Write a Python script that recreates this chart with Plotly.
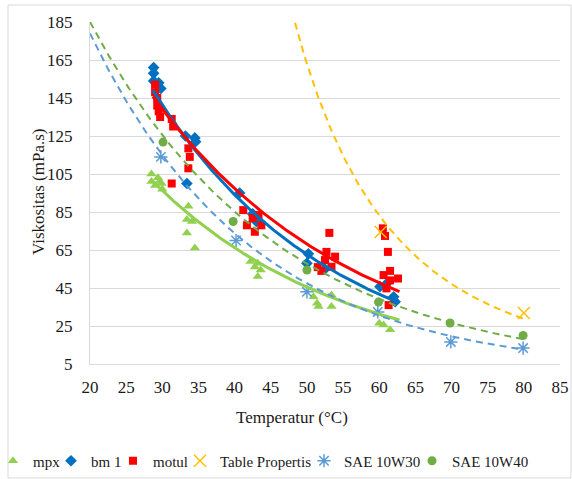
import numpy as np
import plotly.graph_objects as go

# ---------------- data ----------------
mpx_x = [28.5, 28.5, 29.0, 29.4, 29.6, 29.9, 30.0, 33.6, 33.4, 34.1, 33.4, 34.5,
         42.2, 43.2, 43.6, 43.2, 42.8, 50.9, 51.4, 51.6, 53.4, 53.4,
         60.0, 60.6, 61.5, 62.1]
mpx_y = [105, 101, 99, 103, 101, 100, 97, 88, 81, 80, 74, 66,
         59, 58, 54.5, 51, 56, 40.4, 37, 35.2, 41.3, 35.2,
         26.4, 25.5, 23, 39]

bm1_x = [28.8, 28.8, 28.8, 29.5, 29.8, 33.2, 34.5, 34.6, 33.4, 40.7, 42.5, 43.0,
         50.2, 50.0, 52.5, 60.1, 61.2, 62.0, 62.2]
bm1_y = [161, 158, 154, 153, 150, 125, 124, 122, 100, 95, 84, 80,
         63, 58, 55, 45.7, 48, 40.4, 37.8]

motul_x = [29.0, 29.0, 29.3, 29.3, 29.5, 29.7, 31.3, 31.5, 31.3, 33.6, 33.8, 33.6,
           41.2, 41.7, 43.3, 42.8, 43.7, 42.5,
           51.5, 52.0, 52.7, 53.1, 53.9, 52.5, 53.4,
           60.5, 60.8, 61.2, 61.5, 60.6, 62.6, 61.5, 61.0, 61.3]
motul_y = [152, 148, 145, 141, 138, 135, 134, 130, 100, 118.5, 114, 108,
           86, 78, 83.4, 74.6, 78, 81.8,
           56, 54, 64, 74, 61.5, 59.7, 56.2,
           76.4, 72.4, 64, 54, 51.8, 50, 49, 44.8, 36]

table_x = [60.2, 80.0]
table_y = [74.5, 31.8]

sae10w30_x = [29.8, 40.2, 50.0, 59.8, 69.9, 79.9]
sae10w30_y = [114, 70, 43, 32.4, 16.6, 13.4]

sae10w40_x = [30.1, 39.8, 50.0, 59.9, 69.8, 79.9]
sae10w40_y = [121.8, 80, 54.5, 37.6, 26.6, 20]

# trendlines as shown in the picture (Excel-style trendline equations)
# exponential: y = y_ref * exp(k * (x - x_ref));  power: y = y_ref * (x / x_ref) ** k
trend_names = ["mpx", "bm 1", "motul", "Table Propertis", "SAE 10W30", "SAE 10W40"]
trend_kind = ["exp", "exp", "exp", "power", "exp", "exp"]
trend_from = [28.5, 28.7, 28.7, 40.0, 20.0, 20.0]
trend_to = [62.8, 62.8, 62.8, 80.0, 80.0, 80.0]
trend_x_ref = [28.5, 28.7, 28.7, 58.5, 20.0, 20.0]
trend_y_ref = [101.8, 149.0, 145.7, 91.3, 179.0, 185.0]
trend_k = [-0.0375, -0.0407, -0.0357, -3.69, -0.0443, -0.0388]

x_ticks = [20, 25, 30, 35, 40, 45, 50, 55, 60, 65, 70, 75, 80, 85]
y_ticks = [5, 25, 45, 65, 85, 105, 125, 145, 165, 185]

# ---------------- figure ----------------
SERIF = "Liberation Serif"
W, H = 572, 479
ML, MR, MT, MB = 90, 12, 22, 115
PW, PH = W - ML - MR, H - MT - MB


def px_x(p):
    return (p - ML) / PW


def px_y(p):
    return (H - MB - p) / PH


fig = go.Figure()

colors = {"mpx": "#92D050", "bm 1": "#0070C0", "motul": "#FF0000",
          "Table Propertis": "#FFC000", "SAE 10W30": "#5B9BD5", "SAE 10W40": "#70AD47"}

marker_series = [
    ("mpx", mpx_x, mpx_y, dict(symbol="triangle-up", size=9), 13),
    ("bm 1", bm1_x, bm1_y, dict(symbol="diamond", size=9), 17),
    ("motul", motul_x, motul_y, dict(symbol="square", size=8), 22),
    ("Table Propertis", table_x, table_y, dict(symbol="x-thin-open", size=12), 79),
    ("SAE 10W30", sae10w30_x, sae10w30_y, dict(symbol="asterisk-open", size=11), 63),
    ("SAE 10W40", sae10w40_x, sae10w40_y, dict(symbol="circle", size=9), 76),
]

for name, xs, ys, mk, lw in marker_series:
    c = colors[name]
    mk = dict(mk, color=c, line=dict(color=c, width=1.5 if "open" in mk["symbol"] else 0))
    fig.add_trace(go.Scatter(x=xs, y=ys, mode="markers", name=name, marker=mk,
                             legendwidth=lw, hoverinfo="x+y+name"))

for name, kind, x0, x1, xr, yr, k in zip(trend_names, trend_kind, trend_from, trend_to,
                                         trend_x_ref, trend_y_ref, trend_k):
    xx = np.linspace(x0, x1, 200)
    if kind == "exp":
        yy = yr * np.exp(k * (xx - xr))
    else:
        yy = yr * (xx / xr) ** k
    solid = name in ("mpx", "bm 1", "motul")
    fig.add_trace(go.Scatter(
        x=xx, y=yy, mode="lines", showlegend=False, hoverinfo="skip", name=name + " trend",
        line=dict(color=colors[name], width=3 if solid else 2,
                  dash="solid" if solid else "7px,5px")))

fig.update_layout(
    width=W, height=H,
    margin=dict(l=ML, r=MR, t=MT, b=MB, autoexpand=False),
    paper_bgcolor="white", plot_bgcolor="white",
    font=dict(family=SERIF, size=16, color="#1a1a1a"),
    showlegend=True,
    legend=dict(orientation="h", x=px_x(-7), xanchor="left", y=px_y(461), yanchor="middle",
                font=dict(family=SERIF, size=15, color="#1a1a1a"),
                itemwidth=30, bgcolor="rgba(0,0,0,0)", tracegroupgap=0),
    xaxis=dict(range=[20, 85], tickvals=x_ticks, ticktext=[str(v) for v in x_ticks],
               showgrid=False, zeroline=False, showline=True, linecolor="#D9D9D9", linewidth=1,
               ticks="", ticklabelstandoff=8, tickfont=dict(family=SERIF, size=17, color="#1a1a1a")),
    yaxis=dict(range=[5, 185], tickvals=y_ticks, ticktext=[str(v) for v in y_ticks],
               showgrid=True, gridcolor="#D9D9D9", gridwidth=1, zeroline=False,
               showline=True, linecolor="#D9D9D9", linewidth=1,
               ticks="", ticklabelstandoff=13, tickfont=dict(family=SERIF, size=17, color="#1a1a1a")),
    annotations=[
        dict(text="Temperatur (°C)", xref="paper", yref="paper", x=px_x(292), y=px_y(417),
             xanchor="center", yanchor="middle", showarrow=False,
             font=dict(family=SERIF, size=17, color="#1a1a1a")),
        dict(text="Viskositas (mPa.s)", xref="paper", yref="paper", x=px_x(38), y=px_y(192),
             xanchor="center", yanchor="middle", showarrow=False, textangle=-90,
             font=dict(family=SERIF, size=17, color="#1a1a1a")),
    ],
    shapes=[dict(type="rect", xref="paper", yref="paper", x0=px_x(8), x1=px_x(571),
                 y0=px_y(478), y1=px_y(5), line=dict(color="#D9D9D9", width=1), layer="below")],
)

fig.write_html("out.html")
